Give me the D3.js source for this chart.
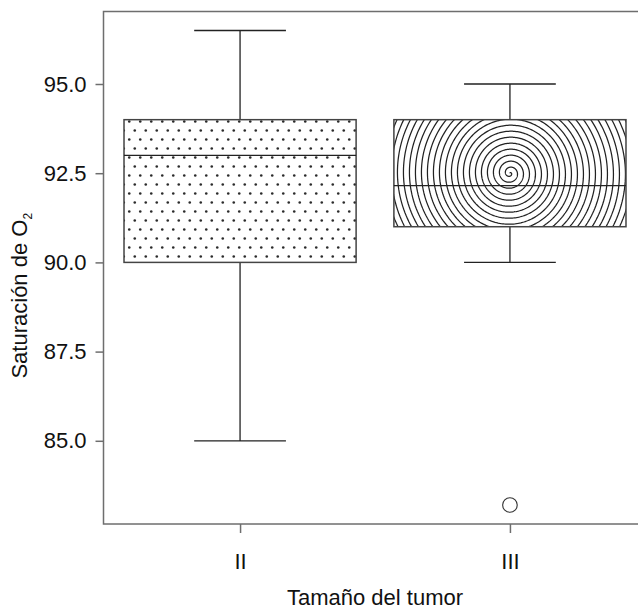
<!DOCTYPE html>
<html>
<head>
<meta charset="utf-8">
<script src="https://cdn.jsdelivr.net/npm/d3@7"></script>
<style>
  body { margin: 0; background: #fff; }
  svg { display: block; font-family: "Liberation Sans", Arial, sans-serif; }
</style>
</head>
<body>
<svg id="chart" width="638" height="612"></svg>
<script>
// data
const categories = ["II", "III"];
const whiskerLow = [85, 90];
const q1 = [90, 91];
const median = [93, 92.15];
const q3 = [94, 94];
const whiskerHigh = [96.5, 95];
const outlierCategory = ["III"];
const outlierValue = [83.2];
const yTicks = [85, 87.5, 90, 92.5, 95];

const plot = { left: 103.5, top: 11.5, right: 646.5, bottom: 524 };
const fontSize = 22;

const svg = d3.select("#chart");

// R style range: data extent + 4%
const [lo, hi] = d3.extent(whiskerLow.concat(whiskerHigh, outlierValue));
const pad = (hi - lo) * 0.04;

const y = d3.scaleLinear()
  .domain([lo - pad, hi + pad])
  .range([plot.bottom, plot.top]);

const x = d3.scalePoint()
  .domain(categories)
  .range([plot.left, plot.right])
  .padding(0.506);

const boxW = x.step() * 0.86;
const capW = x.step() * 0.34;

const boxes = categories.map((c, i) => ({
  cat: c,
  low: whiskerLow[i],
  q1: q1[i],
  med: median[i],
  q3: q3[i],
  high: whiskerHigh[i],
}));

// fill patterns
const defs = svg.append("defs");

const dots = defs.append("pattern")
  .attr("id", "dots")
  .attr("patternUnits", "userSpaceOnUse")
  .attr("width", 11)
  .attr("height", 18);
dots.append("rect").attr("width", 11).attr("height", 18).attr("fill", "#fff");
dots.append("circle").attr("cx", 2.75).attr("cy", 4.5).attr("r", 1.3).attr("fill", "#2a2a2a");
dots.append("circle").attr("cx", 8.25).attr("cy", 13.5).attr("r", 1.3).attr("fill", "#2a2a2a");

boxes.forEach((d, i) => {
  defs.append("clipPath")
    .attr("id", `clip-${i}`)
    .append("rect")
    .attr("x", x(d.cat) - boxW / 2)
    .attr("y", y(d.q3))
    .attr("width", boxW)
    .attr("height", y(d.q1) - y(d.q3));
});

// frame
svg.append("rect")
  .attr("x", plot.left)
  .attr("y", plot.top)
  .attr("width", plot.right - plot.left)
  .attr("height", plot.bottom - plot.top)
  .attr("fill", "none")
  .attr("stroke", "#6e6e6e")
  .attr("stroke-width", 1.5);

const g = svg.append("g");

// whiskers
g.selectAll(".whisker")
  .data(boxes)
  .enter()
  .append("path")
  .attr("class", "whisker")
  .attr("fill", "none")
  .attr("stroke", "#222")
  .attr("stroke-width", 1.3)
  .attr("d", (d) => {
    const cx = x(d.cat);
    return `M${cx},${y(d.q3)}V${y(d.high)}M${cx - capW / 2},${y(d.high)}H${cx + capW / 2}` +
      `M${cx},${y(d.q1)}V${y(d.low)}M${cx - capW / 2},${y(d.low)}H${cx + capW / 2}`;
  });

// box II: dotted fill
g.append("rect")
  .datum(boxes[0])
  .attr("x", (d) => x(d.cat) - boxW / 2)
  .attr("y", (d) => y(d.q3))
  .attr("width", boxW)
  .attr("height", (d) => y(d.q1) - y(d.q3))
  .attr("fill", "url(#dots)");

// box III: spiral fill
{
  const d = boxes[1];
  const cx = x(d.cat);
  const cy = (y(d.q3) + y(d.q1)) / 2;
  const b = 6 / (2 * Math.PI);
  const maxR = Math.hypot(boxW / 2, (y(d.q1) - y(d.q3)) / 2) + 6;
  const pts = d3.range(0, maxR / b, 0.03).map((t) => [t, b * t]);
  const sg = g.append("g").attr("clip-path", "url(#clip-1)");
  sg.append("rect")
    .attr("x", cx - boxW / 2)
    .attr("y", y(d.q3))
    .attr("width", boxW)
    .attr("height", y(d.q1) - y(d.q3))
    .attr("fill", "#fff");
  sg.append("path")
    .attr("transform", `translate(${cx},${cy})`)
    .attr("d", d3.lineRadial()(pts))
    .attr("fill", "none")
    .attr("stroke", "#222")
    .attr("stroke-width", 1.25);
}

// box outlines
g.selectAll(".box")
  .data(boxes)
  .enter()
  .append("rect")
  .attr("class", "box")
  .attr("x", (d) => x(d.cat) - boxW / 2)
  .attr("y", (d) => y(d.q3))
  .attr("width", boxW)
  .attr("height", (d) => y(d.q1) - y(d.q3))
  .attr("fill", "none")
  .attr("stroke", "#444")
  .attr("stroke-width", 1.5);

// medians
g.selectAll(".median")
  .data(boxes)
  .enter()
  .append("line")
  .attr("class", "median")
  .attr("x1", (d) => x(d.cat) - boxW / 2)
  .attr("x2", (d) => x(d.cat) + boxW / 2)
  .attr("y1", (d) => y(d.med))
  .attr("y2", (d) => y(d.med))
  .attr("stroke", "#222")
  .attr("stroke-width", 1.3);

// outliers
g.selectAll(".outlier")
  .data(outlierValue.map((v, i) => ({ cat: outlierCategory[i], v })))
  .enter()
  .append("circle")
  .attr("class", "outlier")
  .attr("cx", (d) => x(d.cat))
  .attr("cy", (d) => y(d.v))
  .attr("r", 7.3)
  .attr("fill", "#fff")
  .attr("stroke", "#333")
  .attr("stroke-width", 1.1);

// axes
const yAxis = svg.append("g")
  .attr("transform", `translate(${plot.left},0)`)
  .call(d3.axisLeft(y).tickValues(yTicks).tickFormat(d3.format(".1f")).tickSize(8).tickPadding(9));

const xAxis = svg.append("g")
  .attr("transform", `translate(0,${plot.bottom})`)
  .call(d3.axisBottom(x).tickSize(9).tickPadding(20));

[yAxis, xAxis].forEach((a) => {
  a.select(".domain").remove();
  a.selectAll(".tick line").attr("stroke", "#6e6e6e").attr("stroke-width", 1.5);
  a.selectAll(".tick text")
    .attr("fill", "#111")
    .style("font-size", fontSize + "px")
    .style("font-family", '"Liberation Sans", Arial, sans-serif');
});

// axis titles
svg.append("text")
  .attr("x", (plot.left + plot.right) / 2)
  .attr("y", 605)
  .attr("text-anchor", "middle")
  .attr("fill", "#111")
  .style("font-size", fontSize + "px")
  .text("Tamaño del tumor");

const yTitle = svg.append("text")
  .attr("transform", `translate(27,${(plot.top + plot.bottom) / 2 + 28}) rotate(-90)`)
  .attr("text-anchor", "middle")
  .attr("fill", "#111")
  .style("font-size", fontSize + "px");
yTitle.append("tspan").text("Saturación de O");
yTitle.append("tspan").attr("dy", 5).style("font-size", "12px").text("2");
</script>
</body>
</html>
